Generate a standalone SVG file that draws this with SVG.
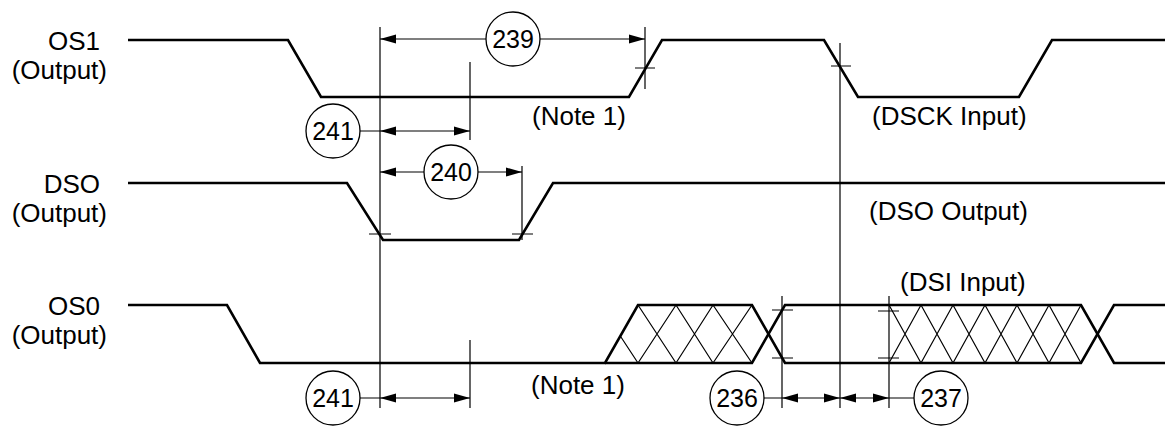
<svg xmlns="http://www.w3.org/2000/svg" width="1165" height="427" viewBox="0 0 1165 427">
<style>
.sig{fill:none;stroke:#000;stroke-width:2.6;stroke-linejoin:miter}
.thin{fill:none;stroke:#000;stroke-width:1.2}
.dim{fill:none;stroke:#000;stroke-width:1.2}
.arr{marker-start:url(#ah);marker-end:url(#ah)}
.bub{fill:#fff;stroke:#000;stroke-width:1.3}
text{font-family:"Liberation Sans",Arial,Helvetica,sans-serif;font-size:26px;fill:#000}
.lbl{text-anchor:end}
.num{font-size:25px;text-anchor:middle}
</style>
<defs>
<marker id="ah" markerWidth="16" markerHeight="10" refX="16" refY="5" orient="auto-start-reverse" markerUnits="userSpaceOnUse"><path d="M0,0.5 L16,5 L0,9.5 z" fill="#000"/></marker>
</defs>
<rect width="1165" height="427" fill="#fff"/>

<g id="os1">
<text class="lbl" x="100" y="49.5">OS1</text>
<text class="lbl" x="107" y="78.5">(Output)</text>
<path class="sig" d="M128,40 H288 L321,97 H629 L662,40 H824 L858,97 H1019 L1052,40 H1165"/>
<text x="532" y="125">(Note 1)</text>
<text x="872" y="125">(DSCK Input)</text>
</g>

<g id="dso">
<text class="lbl" x="100" y="192.5">DSO</text>
<text class="lbl" x="107" y="221.5">(Output)</text>
<path class="sig" d="M128,183 H347 L383,240 H519 L553,183 H1165"/>
<text x="869" y="220">(DSO Output)</text>
</g>

<g id="os0">
<text class="lbl" x="100" y="314.5">OS0</text>
<text class="lbl" x="107" y="343.5">(Output)</text>
<path class="sig" d="M128,305 H227 L260,363 H605 L638,305 H752 L785,363 H1081 L1114,305 H1165"/>
<path class="sig" d="M605,363 H752 L785,305 H1081 L1114,363 H1165"/>
<path class="thin" d="M620.3,336 L638,363 M638,305 L676,363 M676,305 L713,363 M713,305 L752,363 M638,363 L676,305 M676,363 L713,305 M713,363 L752,305"/>
<path class="thin" d="M889,305 L921,363 M921,305 L953,363 M953,305 L985,363 M985,305 L1017,363 M1017,305 L1049,363 M1049,305 L1081,363 M889,363 L921,305 M921,363 L953,305 M953,363 L985,305 M985,363 L1017,305 M1017,363 L1049,305 M1049,363 L1081,305"/>
<text x="900" y="291">(DSI Input)</text>
<text x="531" y="394">(Note 1)</text>
</g>

<g id="connectors">
<path class="dim" d="M380,27 V408 M645,27 V89 M470,62 V140 M522,166 V240 M840,43 V408 M470,340 V408 M782,296 V408 M889,296 V408"/>
<path class="dim" d="M635,68 H655 M831,66 H851 M369,234 H391 M512,234 H533 M772,310 H793 M772,358 H793 M878,311 H899 M878,358 H899"/>
<path class="dim" d="M359,131 H380 M359,398 H380 M763,398 H782 M889,398 H914"/>
<line class="dim arr" x1="380" y1="39" x2="645" y2="39"/>
<line class="dim arr" x1="380" y1="172" x2="522" y2="172"/>
<line class="dim arr" x1="380" y1="131" x2="470" y2="131"/>
<line class="dim arr" x1="380" y1="398" x2="470" y2="398"/>
<line class="dim arr" x1="782" y1="398" x2="840" y2="398"/>
<line class="dim arr" x1="840" y1="398" x2="889" y2="398"/>
</g>

<g id="t239"><circle class="bub" cx="513" cy="39" r="27"/><text class="num" x="513" y="48">239</text></g>
<g id="t240"><circle class="bub" cx="451" cy="172" r="27"/><text class="num" x="451" y="181">240</text></g>
<g id="t241a"><circle class="bub" cx="333" cy="131" r="27"/><text class="num" x="333" y="140">241</text></g>
<g id="t241b"><circle class="bub" cx="333" cy="398" r="27"/><text class="num" x="333" y="407">241</text></g>
<g id="t236"><circle class="bub" cx="737" cy="398" r="27"/><text class="num" x="737" y="407">236</text></g>
<g id="t237"><circle class="bub" cx="941" cy="398" r="27"/><text class="num" x="941" y="407">237</text></g>
</svg>
